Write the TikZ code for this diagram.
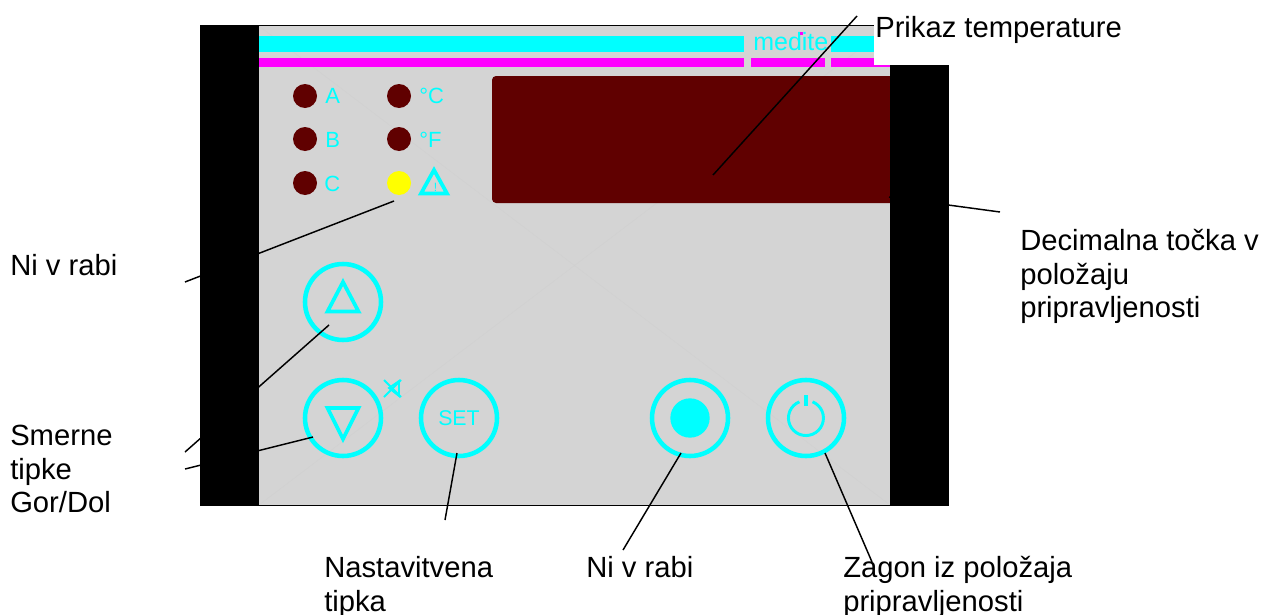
\documentclass[tikz,border=0pt]{standalone}
\usepackage{fontspec}
\setmainfont{Liberation Sans}
\usetikzlibrary{positioning}

\definecolor{panelgray}{HTML}{D4D4D4}
\definecolor{ledred}{HTML}{600000}
\definecolor{faintgray}{HTML}{D0D0D0}
\definecolor{keycyan}{HTML}{00FFFF}
\definecolor{stripmagenta}{HTML}{FF00FF}
\definecolor{ledyellow}{HTML}{FFFF00}

\tikzset{
    lbl/.style={anchor=north west,align=left,inner sep=0pt,font=\fontsize{21.9}{25.2}\selectfont},
    panellbl/.style={anchor=base west,inner sep=0pt,text=keycyan,font=\fontsize{16.5}{20}\selectfont},
    led/.style={circle,fill=ledred,minimum size=18pt,inner sep=0pt},
    keyring/.style={circle,draw=keycyan,line width=3.4pt,minimum size=57pt,inner sep=0pt},
    leader/.style={line width=1.1pt},
    symb/.style={draw=keycyan,line width=2.8pt,miter limit=4}
}

\begin{document}
\begin{tikzpicture}[x=0.75pt,y=-0.75pt]

\useasboundingbox (0,0) rectangle (1263,614);

% panel
\fill [panelgray] (259,26) rectangle (890,505);
\draw [faintgray,line width=0.3pt] (259,26) -- (890,505);
\draw [faintgray,line width=0.3pt] (259,505) -- (890,26);
\draw [line width=1.1pt] (200,25.5) -- (890,25.5);
\draw [line width=1.1pt] (200,505.5) -- (949,505.5);

% strips
\foreach \xa/\xb in {259/744,831/890}
{
    \fill [keycyan] (\xa,36) rectangle (\xb,52);
}
\foreach \xa/\xb in {259/744,751/825,831/890}
{
    \fill [stripmagenta] (\xa,58) rectangle (\xb,67);
}
\node [anchor=base west,inner sep=0pt,text=keycyan,font=\fontsize{18.75}{20}\selectfont] (brand) at (753,50) {medite};
\fill [stripmagenta] (799.5,32) rectangle (802.5,35);

% display
\fill [ledred,rounded corners=3pt] (492,76) rectangle (900,203);

% leds
\foreach \name/\x/\y in {leda/305/96,ledb/305/139,ledc/305/183,ledd/399/96,lede/399/139}
{
    \node [led] (\name) at (\x,\y) {};
}
\node [led,fill=ledyellow] (ledalarm) at (399,183) {};

\node [panellbl] (lbla) at (325,103) {A};
\node [panellbl] (lblb) at (325,147) {B};
\node [panellbl] (lblc) at (324,191) {C};
\node [panellbl] (lbld) at (419,103) {°C};
\node [panellbl] (lble) at (419,147) {°F};

% alarm triangle
\draw [symb] (434,170) -- (447,193.5) -- (421,193.5) -- cycle;
\node [anchor=base,inner sep=0pt,text=keycyan,font=\fontsize{9}{10}\selectfont] (lblmark) at (435.5,191) {!};

% keys
\node [keyring] (keyup) at (343,302) {};
\node [keyring] (keydown) at (343,418) {};
\node [keyring,font=\fontsize{16}{18}\selectfont,text=keycyan] (keyset) at (459,418) {SET};
\node [keyring] (keydot) at (690,418) {};
\node [keyring] (keypower) at (806,418) {};

\draw [symb] (343,282) -- (358.5,311.5) -- (327.5,311.5) -- cycle;
\draw [symb] (343,439) -- (358.5,408) -- (327.5,408) -- cycle;
\node [circle,fill=keycyan,minimum size=29.5pt,inner sep=0pt] (dotmark) at (keydot) {};
\draw [draw=keycyan,line width=2.2pt] (812.5,401.8) arc [start angle=-68,end angle=248,radius=17.5];
\draw [draw=keycyan,line width=2.4pt] (806,395) -- (806,406);

% mute mark
\draw [keycyan,line width=1.4pt] (384,380) -- (401,397);
\draw [keycyan,line width=1.4pt] (384,397) -- (401,380);
\draw [keycyan,line width=1.4pt] (399,381) -- (389,388) -- (399,396) -- cycle;

% leader ends
\coordinate (endtemp) at (857,16);
\coordinate (tiptemp) at (713,175);
\coordinate (enddec) at (1000,212);
\coordinate (tipdec) at (889,197);
\coordinate (endnia) at (185,282);
\coordinate (tipnia) at (394,201);
\coordinate (endup) at (185,452);
\coordinate (tipup) at (329,325);
\coordinate (enddown) at (185,469);
\coordinate (tipdown) at (313,437);
\coordinate (endset) at (445,520);
\coordinate (tipset) at (457,453);
\coordinate (endnib) at (623,550);
\coordinate (tipnib) at (681,453);
\coordinate (endzag) at (872,562);
\coordinate (tipzag) at (825,453);

\foreach \a in {temp,dec,nia,up,down,set,nib,zag}
{
    \draw [leader] (end\a) -- (tip\a);
}

% side bars
\fill (200,25) rectangle (259,506);
\fill (890,65) rectangle (949,506);

% labels
\fill [white] (874,0) rectangle (1130,65);
\node [lbl] (lbltemp) at (875,16) {Prikaz temperature};
\node [lbl] (lbldec) at (1020,229) {Decimalna točka v\\položaju\\pripravljenosti};
\node [lbl] (lblnia) at (10,254) {Ni v rabi};
\node [lbl] (lblarrows) at (10,425) {Smerne\\tipke\\Gor/Dol};
\node [lbl] (lblset) at (324,556) {Nastavitvena\\tipka};
\node [lbl] (lblnib) at (586,556) {Ni v rabi};
\node [lbl] (lblzag) at (843,556) {Zagon iz položaja\\pripravljenosti};

\end{tikzpicture}
\end{document}
